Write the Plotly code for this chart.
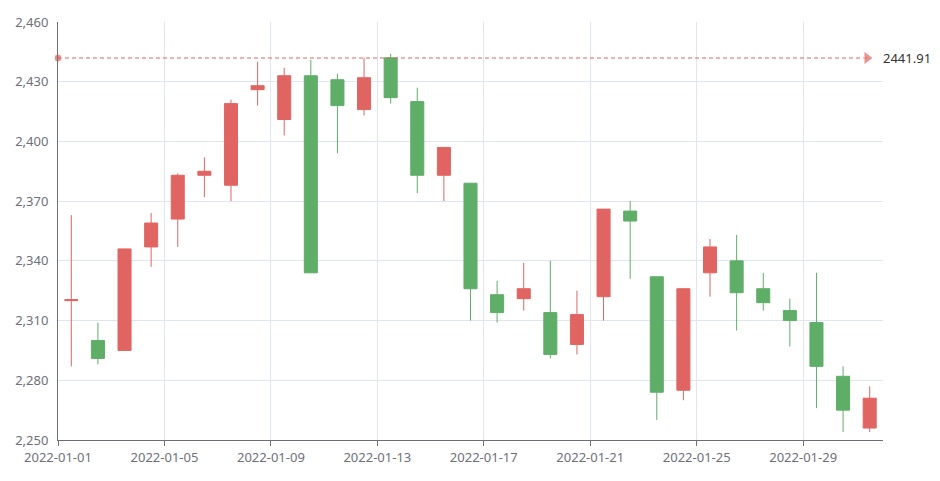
import plotly.graph_objects as go

dates = [f"2022-01-{d:02d}" for d in range(1, 32)]
opens  = [2320, 2300, 2295, 2347, 2361, 2383, 2378, 2426, 2411, 2433, 2431, 2416, 2442, 2420, 2383, 2379,
          2323, 2321, 2314, 2298, 2322, 2365, 2332, 2275, 2334, 2340, 2326, 2315, 2309, 2282, 2256]
closes = [2320.5, 2291, 2346, 2359, 2383, 2385, 2419, 2428, 2433, 2334, 2418, 2432, 2422, 2383, 2397, 2326,
          2314, 2326, 2293, 2313, 2366, 2360, 2274, 2326, 2347, 2324, 2319, 2310, 2287, 2265, 2271]
highs  = [2363, 2309, 2346, 2364, 2384, 2392, 2421, 2440, 2437, 2441, 2434, 2442, 2444, 2427, 2397, 2379,
          2330, 2339, 2340, 2325, 2366, 2370, 2332, 2326, 2351, 2353, 2334, 2321, 2334, 2287, 2277]
lows   = [2287, 2288, 2295, 2337, 2347, 2372, 2370, 2418, 2403, 2334, 2394, 2413, 2419, 2374, 2370, 2310,
          2309, 2315, 2291, 2293, 2310, 2331, 2260, 2270, 2322, 2305, 2315, 2297, 2266, 2254, 2254]
mark_value = 2441.91
tick_idx = [0, 4, 8, 12, 16, 20, 24, 28]

x = list(range(len(dates)))
RED, GREEN = "#e06562", "#5fae68"
GREY = "#6e7079"

fig = go.Figure(go.Candlestick(
    x=x, open=opens, high=highs, low=lows, close=closes,
    increasing=dict(line=dict(color=RED, width=1), fillcolor=RED),
    decreasing=dict(line=dict(color=GREEN, width=1), fillcolor=GREEN),
    whiskerwidth=0, showlegend=False,
))

# mark line at max value
fig.add_trace(go.Scatter(
    x=[-0.5, 29.9], y=[mark_value, mark_value], mode="lines+markers",
    line=dict(color=RED, width=1, dash="4px,3px"),
    marker=dict(symbol=["circle", "triangle-right"], size=[8, 12], color=RED),
    showlegend=False, hoverinfo="skip", cliponaxis=False,
))
fig.add_annotation(x=1, xref="paper", y=mark_value, text=f"{mark_value:.2f}", showarrow=False,
                   xanchor="left", xshift=-2, font=dict(color="#333", size=13))

fig.update_layout(
    width=940, height=481, margin=dict(l=50, r=65, t=14, b=49, autoexpand=False),
    plot_bgcolor="white", paper_bgcolor="white",
    font=dict(family="Noto Sans", size=13, color=GREY),
    xaxis=dict(range=[-0.5, 30.5], rangeslider=dict(visible=False), automargin=False,
               tickvals=[i - 0.5 for i in tick_idx], ticktext=[dates[i] for i in tick_idx],
               showgrid=True, gridcolor="#e0e6f1", showline=True, linecolor=GREY,
               ticks="outside", tickcolor=GREY, ticklen=5, zeroline=False),
    yaxis=dict(range=[2250, 2460], tickvals=list(range(2250, 2461, 30)), tickformat=",",
               showgrid=True, gridcolor="#e0e6f1", showline=True, linecolor=GREY, automargin=False,
               zeroline=False, ticks="", ticklabelstandoff=6),
)

fig.write_html("out.html")
